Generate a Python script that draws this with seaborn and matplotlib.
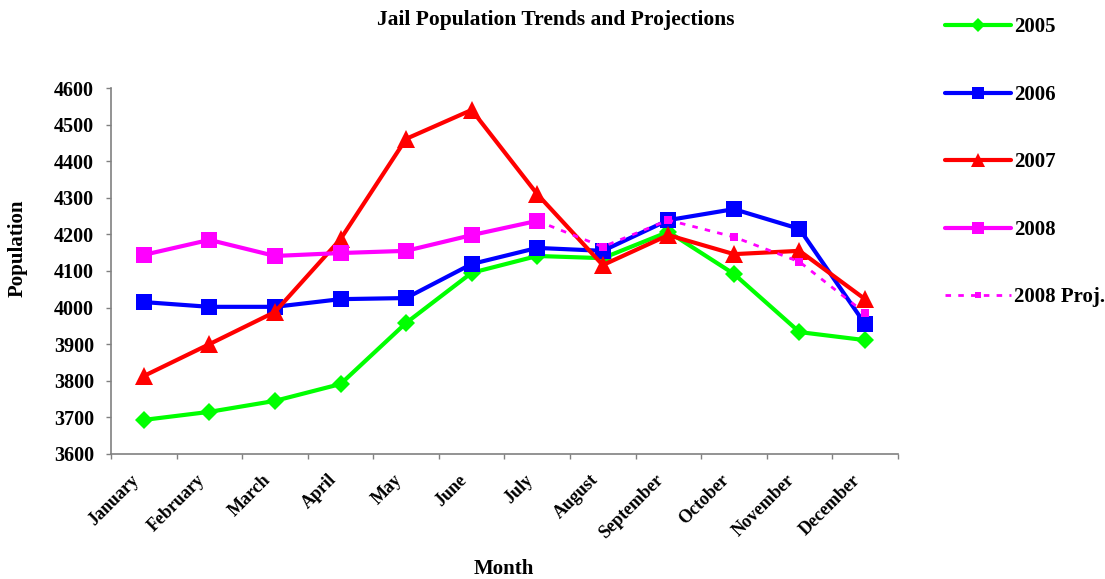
import matplotlib
matplotlib.use("Agg")
import matplotlib.pyplot as plt
import numpy as np
import pandas as pd
import seaborn as sns

months = ["January", "February", "March", "April", "May", "June", "July",
          "August", "September", "October", "November", "December"]

pop_2005 = [3693, 3715, 3745, 3791, 3958, 4095, 4141, 4135, 4207, 4092, 3933, 3911]
pop_2006 = [4015, 4002, 4002, 4023, 4026, 4119, 4163, 4155, 4239, 4269, 4215, 3955]
pop_2007 = [3813, 3900, 3988, 4187, 4461, 4540, 4310, 4116, 4198, 4146, 4155, 4023]
pop_2008 = [4144, 4185, 4141, 4149, 4155, 4198, 4237,
            None, None, None, None, None]
proj_2008 = [None, None, None, None, None, None, 4237,
             4166, 4239, 4193, 4125, 3985]

series = {
    "2005": pop_2005,
    "2006": pop_2006,
    "2007": pop_2007,
    "2008": pop_2008,
    "2008 Proj.": proj_2008,
}

styles = {
    "2005": dict(color="#00FF00", marker="D", markersize=9.5, linewidth=3.0, dashes=None),
    "2006": dict(color="#0000FF", marker="s", markersize=11, linewidth=3.0, dashes=None),
    "2007": dict(color="#FF0000", marker="^", markersize=12.5, linewidth=3.0, dashes=None),
    "2008": dict(color="#FF00FF", marker="s", markersize=11, linewidth=3.0, dashes=None),
    "2008 Proj.": dict(color="#FF00FF", marker="s", markersize=6, linewidth=2.0, dashes=(2.0, 2.6)),
}

rows = []
for name, vals in series.items():
    for i, (m, v) in enumerate(zip(months, vals)):
        if v is not None:
            rows.append({"Series": name, "idx": i, "Month": m, "Population": v})
df = pd.DataFrame(rows)

sns.set_theme(style="white")
plt.rcParams["font.family"] = ["Liberation Serif", "DejaVu Serif"]
plt.rcParams["font.weight"] = "bold"
plt.rcParams["text.color"] = "black"

fig = plt.figure(figsize=(11.05, 5.79), dpi=100)
ax = fig.add_axes([0.1005, 0.216, 0.712, 0.632])

for name in series:
    st = styles[name]
    sub = df[df["Series"] == name]
    kw = dict(color=st["color"], marker=st["marker"], markersize=st["markersize"],
              linewidth=st["linewidth"], markeredgewidth=0, label=name)
    line_ax = sns.lineplot(data=sub, x="idx", y="Population", ax=ax, sort=False, **kw)
    if st["dashes"] is not None:
        line_ax.get_lines()[-1].set_dashes(st["dashes"])

ax.set_xlim(-0.5, 11.5)
ax.set_ylim(3600, 4600)
ax.set_yticks(np.arange(3600, 4601, 100))
ax.set_yticklabels([str(v) for v in range(3600, 4601, 100)], fontsize=14.5, fontweight="bold")

# category boundaries carry the tick marks; the rotated month names hang
# just left of each category centre
ax.set_xticks(np.arange(-0.5, 12, 1.0))
ax.set_xticklabels([])
ax.set_xticks(np.arange(12) - 0.2, minor=True)
ax.set_xticklabels(months, minor=True, rotation=45, ha="right", va="top",
                   rotation_mode="anchor", fontsize=13, fontweight="bold")

ax.tick_params(axis="x", which="major", direction="out", length=3.6, width=1, color="#808080", bottom=True)
ax.tick_params(axis="x", which="minor", length=0, pad=12.5, labelcolor="black")
ax.tick_params(axis="y", direction="out", length=3.6, width=1, color="#808080", left=True, pad=8.5,
               labelcolor="black")

for side in ["top", "right"]:
    ax.spines[side].set_visible(False)
for side in ["left", "bottom"]:
    ax.spines[side].set_color("#808080")
    ax.spines[side].set_linewidth(1.2)

ax.set_xlabel("")
ax.set_ylabel("")
fig.text(504 / 1105, 1 - 569 / 579, "Month", ha="center", va="center",
         fontsize=15, fontweight="bold")
fig.text(18 / 1105, 1 - 248 / 579, "Population", ha="center", va="center",
         rotation=90, fontsize=15, fontweight="bold")

fig.text(556 / 1105, 1 - 20 / 579, "Jail Population Trends and Projections", ha="center", va="center",
         fontsize=15.5, fontweight="bold")

handles, labels = ax.get_legend_handles_labels()
if ax.legend_:
    ax.legend_.remove()
fig.legend(handles, labels, loc="upper left", bbox_to_anchor=(0.8455, 0.988),
           frameon=False, prop={"weight": "bold", "size": 15},
           handlelength=3.2, handletextpad=0.12, labelspacing=2.28, numpoints=1,
           borderpad=0, markerscale=0.75)

fig.savefig("out.png", dpi=100)
